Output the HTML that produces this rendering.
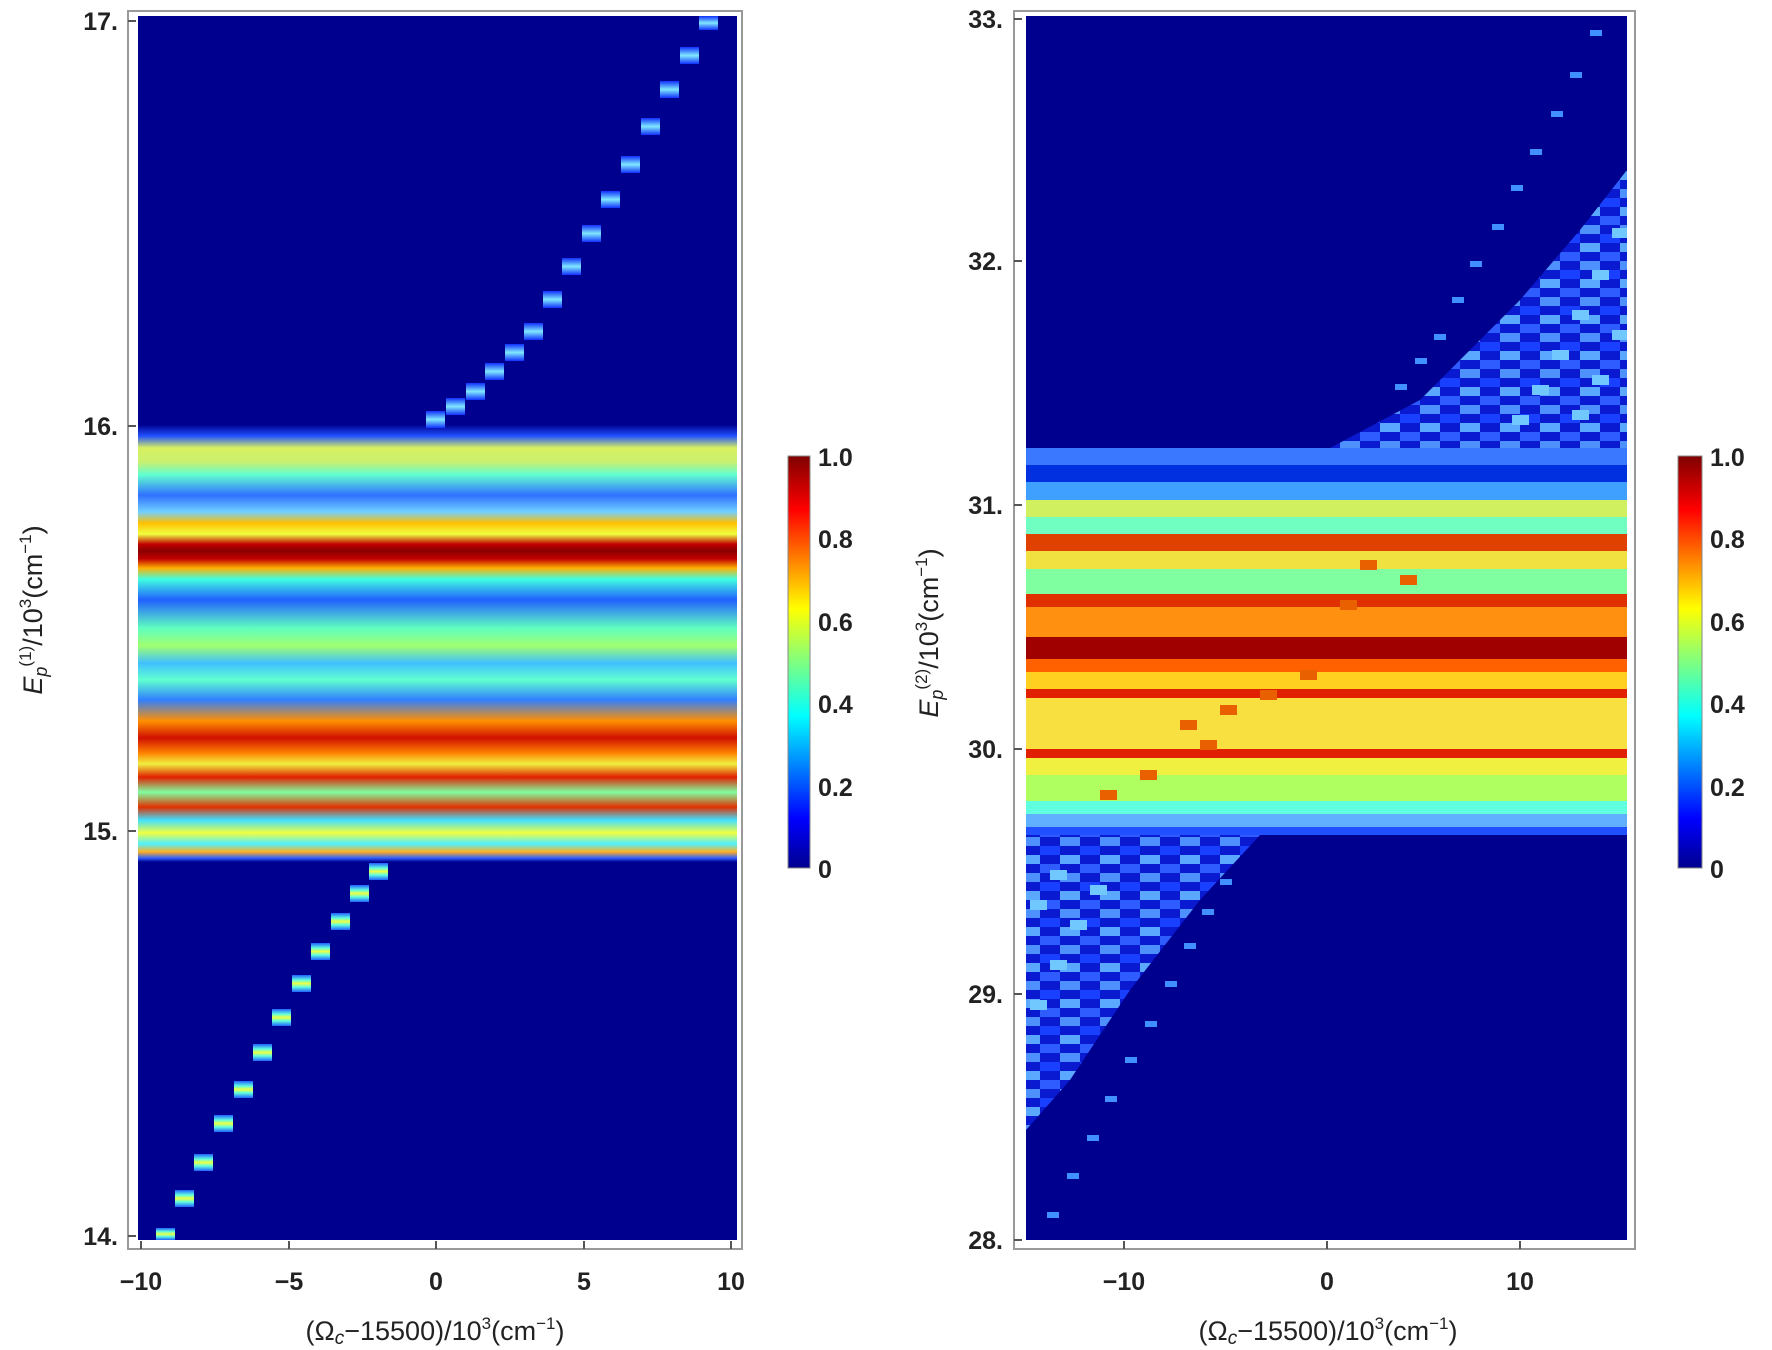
<!DOCTYPE html>
<html><head><meta charset="utf-8"><style>body{margin:0;background:#fff}svg{display:block}text{font-family:"Liberation Sans",sans-serif}</style></head>
<body>
<svg width="1772" height="1350" viewBox="0 0 1772 1350" xmlns="http://www.w3.org/2000/svg">
<defs>
<linearGradient id="jet" x1="0" y1="1" x2="0" y2="0">
<stop offset="0" stop-color="#00008f"/><stop offset="0.12" stop-color="#0000ff"/><stop offset="0.37" stop-color="#00ffff"/><stop offset="0.5" stop-color="#80ff80"/><stop offset="0.63" stop-color="#ffff00"/><stop offset="0.87" stop-color="#ff0000"/><stop offset="1" stop-color="#800000"/>
</linearGradient>
<linearGradient id="bandL" gradientUnits="userSpaceOnUse" x1="0" y1="420" x2="0" y2="862">
<stop offset="0" stop-color="#00008f"/><stop offset=".011" stop-color="#00008f"/><stop offset=".036" stop-color="#2050ff"/><stop offset=".063" stop-color="#d8f060"/><stop offset=".095" stop-color="#c8f070"/><stop offset=".124" stop-color="#60ffd0"/><stop offset=".170" stop-color="#3070ff"/><stop offset=".208" stop-color="#70d0ff"/><stop offset=".233" stop-color="#ffc000"/><stop offset=".258" stop-color="#f0ff40"/><stop offset=".281" stop-color="#c00000"/><stop offset=".296" stop-color="#8a0000"/><stop offset=".314" stop-color="#c00000"/><stop offset=".335" stop-color="#ffb000"/><stop offset=".360" stop-color="#40ffe0"/><stop offset=".407" stop-color="#2060ff"/><stop offset=".471" stop-color="#60ffc0"/><stop offset=".511" stop-color="#a0ff70"/><stop offset=".550" stop-color="#40c0ff"/><stop offset=".588" stop-color="#60ffd0"/><stop offset=".633" stop-color="#3080ff"/><stop offset=".681" stop-color="#ff9000"/><stop offset=".719" stop-color="#d01000"/><stop offset=".753" stop-color="#ff8000"/><stop offset=".778" stop-color="#f0f040"/><stop offset=".808" stop-color="#e02000"/><stop offset=".842" stop-color="#80ffa0"/><stop offset=".876" stop-color="#e03000"/><stop offset=".905" stop-color="#40e0ff"/><stop offset=".934" stop-color="#f0ff40"/><stop offset=".959" stop-color="#50f0ff"/><stop offset=".977" stop-color="#ffb020"/><stop offset=".991" stop-color="#3060ff"/><stop offset="1" stop-color="#00008f"/>
</linearGradient>
<linearGradient id="blkY" x1="0" y1="0" x2="0" y2="1"><stop offset="0" stop-color="#2060ff"/><stop offset="0.3" stop-color="#60ffe0"/><stop offset="0.5" stop-color="#f0ff40"/><stop offset="0.7" stop-color="#60ffe0"/><stop offset="1" stop-color="#2060ff"/></linearGradient>
<linearGradient id="blkC" x1="0" y1="0" x2="0" y2="1"><stop offset="0" stop-color="#1030ff"/><stop offset="0.5" stop-color="#80e8ff"/><stop offset="1" stop-color="#1030ff"/></linearGradient>
<pattern id="chk" patternUnits="userSpaceOnUse" width="40" height="36">
<rect x="0" y="0" width="40" height="36" fill="#0a1ad0"/>
<rect x="0" y="0" width="20" height="9" fill="#2f5cff"/><rect x="20" y="9" width="20" height="9" fill="#4f90ff"/><rect x="0" y="18" width="20" height="9" fill="#1a40ff"/><rect x="20" y="27" width="20" height="9" fill="#5aa8ff"/>
</pattern>
</defs>

<rect x="128" y="11" width="614" height="1238" fill="none" stroke="#999" stroke-width="2"/>
<rect x="138" y="16" width="599" height="1224" fill="#00008f"/>
<rect x="138" y="420" width="599" height="442" fill="url(#bandL)"/>
<g fill="url(#blkY)">
<rect x="156" y="1228" width="19" height="12"/><rect x="175" y="1190" width="19" height="17"/><rect x="194" y="1154" width="19" height="17"/><rect x="214" y="1115" width="19" height="17"/><rect x="234" y="1081" width="19" height="17"/><rect x="253" y="1044" width="19" height="17"/><rect x="272" y="1009" width="19" height="17"/><rect x="292" y="975" width="19" height="17"/><rect x="311" y="943" width="19" height="17"/><rect x="331" y="913" width="19" height="17"/><rect x="350" y="885" width="19" height="17"/><rect x="369" y="863" width="19" height="17"/>
</g>
<g fill="url(#blkC)">
<rect x="699" y="16" width="19" height="14"/><rect x="680" y="47" width="19" height="17"/><rect x="660" y="81" width="19" height="17"/><rect x="641" y="118" width="19" height="17"/><rect x="621" y="156" width="19" height="17"/><rect x="601" y="191" width="19" height="17"/><rect x="582" y="225" width="19" height="17"/><rect x="562" y="258" width="19" height="17"/><rect x="543" y="291" width="19" height="17"/><rect x="524" y="323" width="19" height="17"/><rect x="505" y="344" width="19" height="17"/><rect x="485" y="363" width="19" height="17"/><rect x="466" y="383" width="19" height="17"/><rect x="446" y="398" width="19" height="17"/><rect x="426" y="411" width="19" height="17"/>
</g>
<g font-size="25" font-weight="bold" fill="#222" text-anchor="end">
<text x="118" y="30">17.</text><text x="118" y="435">16.</text><text x="118" y="840">15.</text><text x="118" y="1245">14.</text>
</g>
<g stroke="#555" stroke-width="2"><line x1="128" y1="21" x2="136" y2="21"/><line x1="128" y1="426" x2="136" y2="426"/><line x1="128" y1="831" x2="136" y2="831"/><line x1="128" y1="1236" x2="136" y2="1236"/>
<line x1="141" y1="1249" x2="141" y2="1241"/><line x1="289" y1="1249" x2="289" y2="1241"/><line x1="436" y1="1249" x2="436" y2="1241"/><line x1="584" y1="1249" x2="584" y2="1241"/><line x1="731" y1="1249" x2="731" y2="1241"/></g>
<g font-size="25" font-weight="bold" fill="#222" text-anchor="middle">
<text x="141" y="1290">−10</text><text x="289" y="1290">−5</text><text x="436" y="1290">0</text><text x="584" y="1290">5</text><text x="731" y="1290">10</text>
</g>
<text x="435" y="1340" font-size="27" text-anchor="middle" fill="#222">(Ω<tspan font-style="italic" font-size="19" dy="4">c</tspan><tspan dy="-4">−15500)/10</tspan><tspan font-size="17" dy="-11">3</tspan><tspan dy="11">(cm</tspan><tspan font-size="17" dy="-11">−1</tspan><tspan dy="11">)</tspan></text>
<text transform="translate(42,610) rotate(-90)" font-size="27" text-anchor="middle" fill="#222"><tspan font-style="italic">E</tspan><tspan font-style="italic" font-size="18" dy="5">p</tspan><tspan font-size="17" dy="-16">(1)</tspan><tspan dy="11">/10</tspan><tspan font-size="17" dy="-11">3</tspan><tspan dy="11">(cm</tspan><tspan font-size="17" dy="-11">−1</tspan><tspan dy="11">)</tspan></text>
<rect x="788" y="456" width="22" height="412" fill="url(#jet)" stroke="#888"/>
<g font-size="25" font-weight="bold" fill="#222"><text x="818" y="466">1.0</text><text x="818" y="548">0.8</text><text x="818" y="631">0.6</text><text x="818" y="713">0.4</text><text x="818" y="796">0.2</text><text x="818" y="878">0</text></g>

<rect x="1014" y="11" width="621" height="1238" fill="none" stroke="#999" stroke-width="2"/>
<rect x="1026" y="16" width="601" height="1224" fill="#00008f"/>
<g>
<rect x="1026" y="448" width="601" height="17" fill="#3a78ff"/>
<rect x="1026" y="465" width="601" height="17" fill="#0030e0"/>
<rect x="1026" y="482" width="601" height="18" fill="#40a0ff"/>
<rect x="1026" y="500" width="601" height="17" fill="#d0f060"/>
<rect x="1026" y="517" width="601" height="17" fill="#70ffc0"/>
<rect x="1026" y="534" width="601" height="17" fill="#e04000"/>
<rect x="1026" y="551" width="601" height="18" fill="#f0e040"/>
<rect x="1026" y="569" width="601" height="25" fill="#80ffa0"/>
<rect x="1026" y="594" width="601" height="13" fill="#e03000"/>
<rect x="1026" y="607" width="601" height="30" fill="#ff9010"/>
<rect x="1026" y="637" width="601" height="22" fill="#a00000"/>
<rect x="1026" y="659" width="601" height="13" fill="#ff6000"/>
<rect x="1026" y="672" width="601" height="17" fill="#ffd020"/>
<rect x="1026" y="689" width="601" height="9" fill="#e02000"/>
<rect x="1026" y="698" width="601" height="51" fill="#f8e040"/>
<rect x="1026" y="749" width="601" height="9" fill="#e02000"/>
<rect x="1026" y="758" width="601" height="17" fill="#f0f040"/>
<rect x="1026" y="775" width="601" height="26" fill="#b0ff60"/>
<rect x="1026" y="801" width="601" height="13" fill="#60ffe0"/>
<rect x="1026" y="814" width="601" height="13" fill="#60b0ff"/>
<rect x="1026" y="827" width="601" height="8" fill="#2050ff"/>
</g>
<polygon points="1627,170 1627,448 1330,448 1420,400 1520,300 1580,230" fill="url(#chk)"/>
<polygon points="1026,835 1260,835 1200,900 1130,990 1070,1080 1026,1130" fill="url(#chk)"/>
<g fill="#4090ff">
<rect x="1590" y="30" width="12" height="6"/><rect x="1570" y="72" width="12" height="6"/><rect x="1551" y="111" width="12" height="6"/><rect x="1530" y="149" width="12" height="6"/><rect x="1511" y="185" width="12" height="6"/><rect x="1492" y="224" width="12" height="6"/><rect x="1470" y="261" width="12" height="6"/><rect x="1452" y="297" width="12" height="6"/><rect x="1434" y="334" width="12" height="6"/><rect x="1415" y="358" width="12" height="6"/><rect x="1395" y="384" width="12" height="6"/>
<rect x="1047" y="1212" width="12" height="6"/><rect x="1067" y="1173" width="12" height="6"/><rect x="1087" y="1135" width="12" height="6"/><rect x="1105" y="1096" width="12" height="6"/><rect x="1125" y="1057" width="12" height="6"/><rect x="1145" y="1021" width="12" height="6"/><rect x="1165" y="981" width="12" height="6"/><rect x="1184" y="943" width="12" height="6"/><rect x="1202" y="909" width="12" height="6"/><rect x="1220" y="879" width="12" height="6"/>
</g>
<g fill="#70c8ff">
<rect x="1612" y="228" width="15" height="10"/><rect x="1592" y="270" width="17" height="10"/><rect x="1572" y="310" width="17" height="10"/><rect x="1552" y="350" width="17" height="10"/><rect x="1532" y="385" width="17" height="10"/><rect x="1512" y="415" width="17" height="10"/><rect x="1612" y="330" width="15" height="10"/><rect x="1592" y="375" width="17" height="10"/><rect x="1572" y="410" width="17" height="10"/>
<rect x="1030" y="1000" width="17" height="10"/><rect x="1050" y="960" width="17" height="10"/><rect x="1070" y="920" width="17" height="10"/><rect x="1090" y="885" width="17" height="10"/><rect x="1030" y="900" width="17" height="10"/><rect x="1050" y="870" width="17" height="10"/>
</g>
<g fill="#e86000">
<rect x="1180" y="720" width="17" height="10"/><rect x="1220" y="705" width="17" height="10"/><rect x="1200" y="740" width="17" height="10"/><rect x="1140" y="770" width="17" height="10"/><rect x="1100" y="790" width="17" height="10"/><rect x="1260" y="690" width="17" height="10"/><rect x="1300" y="670" width="17" height="10"/><rect x="1340" y="600" width="17" height="10"/><rect x="1400" y="575" width="17" height="10"/><rect x="1360" y="560" width="17" height="10"/>
</g>
<g font-size="25" font-weight="bold" fill="#222" text-anchor="end">
<text x="1003" y="28">33.</text><text x="1003" y="270">32.</text><text x="1003" y="514">31.</text><text x="1003" y="758">30.</text><text x="1003" y="1003">29.</text><text x="1003" y="1249">28.</text>
</g>
<g stroke="#555" stroke-width="2"><line x1="1014" y1="19" x2="1022" y2="19"/><line x1="1014" y1="261" x2="1022" y2="261"/><line x1="1014" y1="505" x2="1022" y2="505"/><line x1="1014" y1="749" x2="1022" y2="749"/><line x1="1014" y1="994" x2="1022" y2="994"/><line x1="1014" y1="1240" x2="1022" y2="1240"/>
<line x1="1124" y1="1249" x2="1124" y2="1241"/><line x1="1327" y1="1249" x2="1327" y2="1241"/><line x1="1520" y1="1249" x2="1520" y2="1241"/></g>
<g font-size="25" font-weight="bold" fill="#222" text-anchor="middle">
<text x="1124" y="1290">−10</text><text x="1327" y="1290">0</text><text x="1520" y="1290">10</text>
</g>
<text x="1328" y="1340" font-size="27" text-anchor="middle" fill="#222">(Ω<tspan font-style="italic" font-size="19" dy="4">c</tspan><tspan dy="-4">−15500)/10</tspan><tspan font-size="17" dy="-11">3</tspan><tspan dy="11">(cm</tspan><tspan font-size="17" dy="-11">−1</tspan><tspan dy="11">)</tspan></text>
<text transform="translate(938,633) rotate(-90)" font-size="27" text-anchor="middle" fill="#222"><tspan font-style="italic">E</tspan><tspan font-style="italic" font-size="18" dy="5">p</tspan><tspan font-size="17" dy="-16">(2)</tspan><tspan dy="11">/10</tspan><tspan font-size="17" dy="-11">3</tspan><tspan dy="11">(cm</tspan><tspan font-size="17" dy="-11">−1</tspan><tspan dy="11">)</tspan></text>
<rect x="1678" y="456" width="24" height="412" fill="url(#jet)" stroke="#888"/>
<g font-size="25" font-weight="bold" fill="#222"><text x="1710" y="466">1.0</text><text x="1710" y="548">0.8</text><text x="1710" y="631">0.6</text><text x="1710" y="713">0.4</text><text x="1710" y="796">0.2</text><text x="1710" y="878">0</text></g>
</svg>
</body></html>
